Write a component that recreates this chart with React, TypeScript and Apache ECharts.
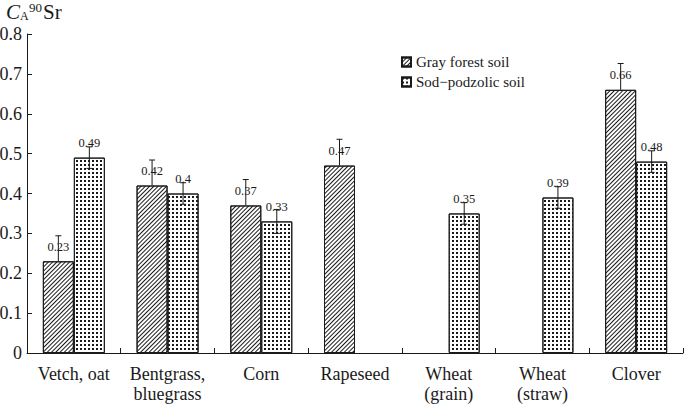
import React, { useEffect, useRef } from "react";
import * as echarts from "echarts";

const categories = [
  "Vetch, oat",
  "Bentgrass,\nbluegrass",
  "Corn",
  "Rapeseed",
  "Wheat\n(grain)",
  "Wheat\n(straw)",
  "Clover",
];
const grayForest: (number | null)[] = [0.23, 0.42, 0.37, 0.47, null, null, 0.66];
const sodPodzolic: (number | null)[] = [0.49, 0.4, 0.33, null, 0.35, 0.39, 0.48];
const grayErr: (number | null)[] = [0.064, 0.064, 0.065, 0.066, null, null, 0.066];
const sodErr: (number | null)[] = [0.027, 0.027, 0.03, null, 0.027, 0.027, 0.027];
const yTicks = [0, 0.1, 0.2, 0.3, 0.4, 0.5, 0.6, 0.7, 0.8];
const seriesNames = ["Gray forest soil", "Sod\u2212podzolic soil"];

const FONT = "'Liberation Serif', 'DejaVu Serif', serif";
const INK = "#1a1a1a";
const BAR_W = 31;

export default function App() {
  const ref = useRef<HTMLDivElement>(null);
  useEffect(() => {
    if (!ref.current) return;
    const chart = echarts.init(ref.current, undefined, { renderer: "svg" });

    const errData: any[] = [];
    grayForest.forEach((v, i) => {
      if (v != null && grayErr[i] != null) errData.push([i, v, grayErr[i], -1, 0]);
    });
    sodPodzolic.forEach((v, i) => {
      if (v != null && sodErr[i] != null) errData.push([i, v, sodErr[i], 1, 1]);
    });

    const hatch = {
      symbol: "rect",
      symbolSize: 1,
      color: INK,
      dashArrayX: [1, 0],
      dashArrayY: [1, 1.6],
      rotation: -Math.PI / 4,
    };
    const dots = {
      symbol: "rect",
      symbolSize: 1,
      color: INK,
      dashArrayX: [1.2, 1.8],
      dashArrayY: [1.2, 1.8],
      rotation: 0,
    };

    const labelStyle = {
      show: true,
      position: "top" as const,
      distance: 8,
      fontFamily: FONT,
      fontSize: 12.5,
      color: INK,
      formatter: (p: any) => String(p.value),
    };

    chart.setOption({
      animation: false,
      backgroundColor: "#fff",
      textStyle: { fontFamily: FONT, color: INK },
      grid: {
        left: 27,
        right: 2,
        top: 34,
        bottom: 53,
        containLabel: false,
        outerBoundsMode: "none",
      },
      legend: {
        orient: "vertical",
        left: 396,
        top: 48,
        itemWidth: 9,
        itemHeight: 9,
        itemGap: 2,
        icon: "rect",
        textStyle: { fontFamily: FONT, fontSize: 15, color: INK, lineHeight: 18 },
        data: seriesNames,
      },
      xAxis: {
        type: "category",
        data: categories,
        boundaryGap: true,
        axisLine: { show: true, lineStyle: { color: INK, width: 1 } },
        axisTick: { show: true, inside: true, length: 5, lineStyle: { color: INK } },
        axisLabel: {
          fontFamily: FONT,
          fontSize: 18,
          color: INK,
          margin: 11,
          lineHeight: 20,
          interval: 0,
        },
        splitLine: { show: false },
      },
      yAxis: {
        type: "value",
        min: 0,
        max: 0.8,
        interval: 0.1,
        axisLine: { show: true, lineStyle: { color: INK, width: 1 } },
        axisTick: { show: true, inside: true, length: 5, lineStyle: { color: INK } },
        axisLabel: {
          fontFamily: FONT,
          fontSize: 18,
          color: INK,
          margin: 5,
          formatter: (v: number) => {
            const t = yTicks.find((x) => Math.abs(x - v) < 1e-9);
            const val = t == null ? v : t;
            return val === 0 ? "0" : val.toFixed(1);
          },
        },
        splitLine: { show: false },
      },
      graphic: [
        {
          type: "text",
          left: 6,
          top: 1,
          style: { text: "C", font: `italic 21px ${FONT}`, fill: INK },
        },
        {
          type: "text",
          left: 20,
          top: 10,
          style: { text: "A", font: `12px ${FONT}`, fill: INK },
        },
        {
          type: "text",
          left: 29,
          top: 1,
          style: { text: "90", font: `13px ${FONT}`, fill: INK },
        },
        {
          type: "text",
          left: 43,
          top: 1,
          style: { text: "Sr", font: `21px ${FONT}`, fill: INK },
        },
      ],
      series: [
        {
          name: seriesNames[0],
          type: "bar",
          data: grayForest.map((v) => (v == null ? "-" : v)),
          barWidth: BAR_W,
          barGap: "0%",
          itemStyle: { color: "#fff", borderColor: INK, borderWidth: 1, decal: hatch },
          label: labelStyle,
          z: 2,
        },
        {
          name: seriesNames[1],
          type: "bar",
          data: sodPodzolic.map((v) => (v == null ? "-" : v)),
          barWidth: BAR_W,
          barGap: "0%",
          itemStyle: { color: "#fff", borderColor: INK, borderWidth: 1, decal: dots },
          label: labelStyle,
          z: 2,
        },
        {
          type: "custom",
          name: "errors",
          z: 5,
          silent: true,
          data: errData,
          encode: { x: 0, y: 1 },
          renderItem: (params: any, api: any) => {
            const idx = api.value(0);
            const v = api.value(1);
            const e = api.value(2);
            const side = api.value(3);
            const lower = api.value(4);
            const top = api.coord([idx, v + e]);
            const bot = api.coord([idx, lower ? v - e : v]);
            const x = top[0] + (side * BAR_W) / 2;
            const cap = 3;
            const style = { stroke: INK, lineWidth: 1 };
            const children: any[] = [
              { type: "line", shape: { x1: x, y1: top[1], x2: x, y2: bot[1] }, style },
              { type: "line", shape: { x1: x - cap, y1: top[1], x2: x + cap, y2: top[1] }, style },
            ];
            if (lower) {
              children.push({
                type: "line",
                shape: { x1: x - cap, y1: bot[1], x2: x + cap, y2: bot[1] },
                style,
              });
            }
            return { type: "group", children };
          },
        },
      ],
    });
    return () => chart.dispose();
  }, []);

  return (
    <div
      ref={ref}
      style={{ position: "fixed", left: 0, top: 0, width: 685, height: 406 }}
    />
  );
}
